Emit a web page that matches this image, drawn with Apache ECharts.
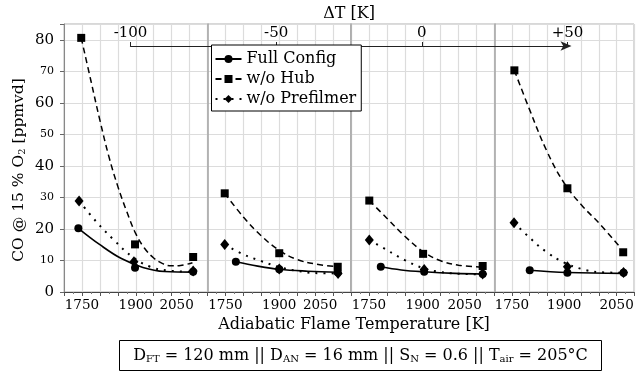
<!DOCTYPE html>
<html><head><meta charset="utf-8">
<script src="https://cdn.jsdelivr.net/npm/echarts@6/dist/echarts.min.js"></script>
<style>html,body{margin:0;padding:0;background:#fff}#c{width:637px;height:371px}</style>
</head><body><div id="c"></div>
<script>
const FONT = 'DejaVu Serif';
const seriesNames = ['Full Config', 'w/o Hub', 'w/o Prefilmer'];
const tempTicks = [1750, 1900, 2050];
const dTTicks = [-100, -50, 0, 50];
const dTLabels = ['-100', '-50', '0', '+50'];

// Panel 1 (ΔT = -100 K): measured points [T_ad, CO]
const p1Full = [[1740, 20.2], [1898, 7.7], [2060, 6.4]];
const p1Hub  = [[1748, 80.6], [1898, 15.1], [2060, 11.1]];
const p1Pref = [[1742, 28.9], [1895, 9.6], [2060, 6.7]];
// Panel 1 trend curves
const p1FullFit = [[1740, 20.2], [1800, 15.0], [1860, 10.6], [1920, 7.8], [1980, 6.5], [2060, 6.3]];
const p1HubFit  = [[1748, 80.6], [1775, 67], [1800, 54.5], [1825, 43], [1850, 33.5], [1875, 25.5], [1900, 18.5], [1925, 13.8], [1950, 10.8], [1975, 9.0], [2000, 8.3], [2025, 8.4], [2058, 9.3]];
const p1PrefFit = [[1742, 28.9], [1790, 22.3], [1840, 16.4], [1890, 11.2], [1940, 8.0], [1990, 6.8], [2053, 6.4]];

// Panel 2 (ΔT = -50 K)
const p2Full = [[1779, 9.6], [1900, 7.2], [2063, 6.3]];
const p2Hub  = [[1748, 31.3], [1900, 12.3], [2063, 8.0]];
const p2Pref = [[1748, 15.1], [1900, 7.3], [2064, 5.9]];
const p2FullFit = [[1779, 9.6], [1840, 8.2], [1900, 7.2], [1980, 6.6], [2063, 6.25]];
const p2HubFit  = [[1748, 31.3], [1800, 23.8], [1850, 17.8], [1900, 13.2], [1950, 10.3], [2000, 8.9], [2063, 8.0]];
const p2PrefFit = [[1748, 15.1], [1800, 11.9], [1850, 9.8], [1900, 7.9], [1950, 6.7], [2000, 6.0], [2064, 5.9]];

// Panel 3 (ΔT = 0 K)
const p3Full = [[1783, 8.0], [1904, 6.4], [2067, 5.7]];
const p3Hub  = [[1751, 29.0], [1901, 12.1], [2067, 8.25]];
const p3Pref = [[1751, 16.5], [1904, 7.1], [2067, 5.7]];
const p3FullFit = [[1783, 8.0], [1840, 7.0], [1904, 6.4], [1990, 5.9], [2067, 5.7]];
const p3HubFit  = [[1751, 29], [1800, 23.4], [1850, 17.7], [1900, 12.9], [1950, 9.9], [2000, 8.5], [2067, 7.9]];
const p3PrefFit = [[1751, 16.5], [1800, 13.3], [1850, 10.1], [1900, 7.6], [1950, 6.3], [2000, 5.8], [2067, 5.6]];

// Panel 4 (ΔT = +50 K)
const p4Full = [[1801, 6.9], [1909, 6.1], [2070, 6.1]];
const p4Hub  = [[1757, 70.3], [1909, 32.9], [2069, 12.6]];
const p4Pref = [[1756, 22.0], [1909, 8.0], [2070, 6.2]];
const p4FullFit = [[1801, 6.9], [1909, 6.2], [2070, 5.9]];
const p4HubFit  = [[1757, 70.3], [1800, 58], [1850, 44.7], [1900, 34.5], [1950, 27.5], [2000, 21.8], [2062, 14]];
const p4PrefFit = [[1756, 22], [1800, 17.3], [1850, 12.6], [1900, 9.3], [1950, 7.3], [2000, 6.3], [2070, 6.1]];

const panels = [
  {full: p1Full, hub: p1Hub, pref: p1Pref, fullFit: p1FullFit, hubFit: p1HubFit, prefFit: p1PrefFit},
  {full: p2Full, hub: p2Hub, pref: p2Pref, fullFit: p2FullFit, hubFit: p2HubFit, prefFit: p2PrefFit},
  {full: p3Full, hub: p3Hub, pref: p3Pref, fullFit: p3FullFit, hubFit: p3HubFit, prefFit: p3PrefFit},
  {full: p4Full, hub: p4Hub, pref: p4Pref, fullFit: p4FullFit, hubFit: p4HubFit, prefFit: p4PrefFit}
];

// layout
const panelLeft = [64, 207.5, 351, 494.5];
const panelW = 143.5;
const plotTop = 24, plotH = 268;
const shift2050 = [26, 26, 24, 0];

const kinds = [
  {key: 'full', name: seriesNames[0], symbol: 'circle', size: 8, line: {type: 'solid', width: 1.6}},
  {key: 'hub', name: seriesNames[1], symbol: 'rect', size: 8, line: {type: [6, 4], width: 1.5}},
  {key: 'pref', name: seriesNames[2], symbol: 'diamond', size: [9, 11], line: {type: [2, 6], width: 2}}
];

const grid = [], xAxis = [], yAxis = [], series = [];
panels.forEach((p, i) => {
  grid.push({left: panelLeft[i], top: plotTop, width: panelW, height: plotH, show: true, borderColor: '#b0b0b0', borderWidth: 1});
  xAxis.push({
    type: 'value', gridIndex: i, min: 1700, max: 2100, interval: 50,
    axisLine: {show: true, onZero: false, lineStyle: {color: '#444', width: 1}},
    axisTick: {show: true, length: 4, lineStyle: {color: '#555'}},
    minorTick: {show: true, splitNumber: 2, length: 2, lineStyle: {color: '#777'}},
    splitLine: {show: true, lineStyle: {color: '#dcdcdc', width: 1.2}},
    axisLabel: {
      show: true, margin: 6, color: '#000', fontFamily: FONT, fontSize: 13.5,
      formatter: v => {
        if (v === 2050 && shift2050[i]) return '{s|' + v + '}';
        return tempTicks.includes(v) ? String(v) : '';
      },
      rich: {s: {fontFamily: FONT, fontSize: 13.5, color: '#000', padding: [0, shift2050[i], 0, 0]}}
    }
  });
  yAxis.push(i === 0 ? {
    type: 'value', gridIndex: i, min: 0, max: 85, interval: 10,
    axisLine: {show: true, lineStyle: {color: '#888', width: 1}},
    axisTick: {show: true, length: 4, lineStyle: {color: '#666'}},
    splitLine: {show: true, lineStyle: {color: '#dcdcdc', width: 1.2}},
    axisLabel: {
      margin: 10, color: '#000',
      formatter: v => (v % 20 === 0 ? '{b|' + v + '}' : (v % 10 === 0 ? '{s|' + v + '}' : '')),
      rich: {b: {fontFamily: FONT, fontSize: 15, color: '#000'}, s: {fontFamily: FONT, fontSize: 11, color: '#000'}}
    },
    name: 'CO @ 15 % O{sub|2} [ppmvd]', nameLocation: 'middle', nameGap: 37, nameRotate: 90,
    nameTextStyle: {fontFamily: FONT, fontSize: 15.5, color: '#000', padding: [0, 24, 0, 0],
      rich: {sub: {fontFamily: FONT, fontSize: 10, color: '#000', padding: [6, 0, 0, 0]}}}
  } : {
    type: 'value', gridIndex: i, min: 0, max: 85, interval: 10,
    axisLine: {show: true, lineStyle: {color: '#a8a8a8', width: 1.6}},
    axisTick: {show: false}, axisLabel: {show: false},
    splitLine: {show: true, lineStyle: {color: '#dcdcdc', width: 1.2}}
  });
  kinds.forEach(k => {
    series.push({
      type: 'line', name: k.name, xAxisIndex: i, yAxisIndex: i, data: p[k.key + 'Fit'],
      smooth: 0.4, symbol: k.symbol, symbolSize: k.size, showSymbol: false,
      lineStyle: {color: '#000', type: k.line.type, width: k.line.width},
      itemStyle: {color: '#000', opacity: 1}, silent: true, z: 2
    });
  });
  kinds.forEach(k => {
    series.push({
      type: 'scatter', name: k.name, xAxisIndex: i, yAxisIndex: i, data: p[k.key],
      symbol: k.symbol, symbolSize: k.size, itemStyle: {color: '#000', opacity: 1}, silent: true, z: 3
    });
  });
});

// top ΔT axis
grid.push({left: 130.5, top: 45, width: 437, height: 1});
xAxis.push({
  type: 'value', gridIndex: 4, position: 'top', min: -100, max: 50, interval: 50,
  axisLine: {show: true, symbol: ['none', 'arrow'], symbolSize: [7, 11], symbolOffset: [0, 4],
    lineStyle: {color: '#222', width: 1.2}},
  axisTick: {show: true, length: 4, lineStyle: {color: '#222'}},
  splitLine: {show: false},
  axisLabel: {margin: 4, color: '#000', fontFamily: FONT, fontSize: 15,
    formatter: v => { const k = dTTicks.indexOf(v); return k >= 0 ? dTLabels[k] : ''; }},
  name: 'ΔT [K]', nameLocation: 'middle', nameGap: 23,
  nameTextStyle: {fontFamily: FONT, fontSize: 16, color: '#000'}
});
yAxis.push({type: 'value', gridIndex: 4, show: false});

const chart = echarts.init(document.getElementById('c'), null, {renderer: 'canvas'});
chart.setOption({
  animation: false,
  backgroundColor: '#fff',
  grid, xAxis, yAxis, series,
  legend: {
    data: seriesNames, orient: 'vertical', left: 211.5, top: 45,
    backgroundColor: '#fff', borderColor: '#000', borderWidth: 1, borderRadius: 0,
    padding: [5, 5, 3, 3], itemGap: 2, itemWidth: 26, itemHeight: 10,
    selectedMode: false, z: 10,
    textStyle: {fontFamily: FONT, fontSize: 16, color: '#000', lineHeight: 18}
  },
  graphic: [
    {type: 'text', x: 354, y: 325, style: {text: 'Adiabatic Flame Temperature [K]', align: 'center', verticalAlign: 'middle', fontFamily: FONT, fontSize: 16, fill: '#000'}},
    {type: 'rect', shape: {x: 119.5, y: 340.5, width: 482, height: 30}, style: {fill: '#fff', stroke: '#000', lineWidth: 1}},
    {type: 'text', x: 360.5, y: 355.5, style: {
      text: 'D{sub|FT} = 120 mm || D{sub|AN} = 16 mm || S{sub|N} = 0.6 || T{sub|air} = 205°C',
      align: 'center', verticalAlign: 'middle', fontFamily: FONT, fontSize: 16, fill: '#000',
      rich: {sub: {fontFamily: FONT, fontSize: 10, fill: '#000', padding: [7, 0, 0, 0]}}
    }}
  ]
});
</script></body></html>
